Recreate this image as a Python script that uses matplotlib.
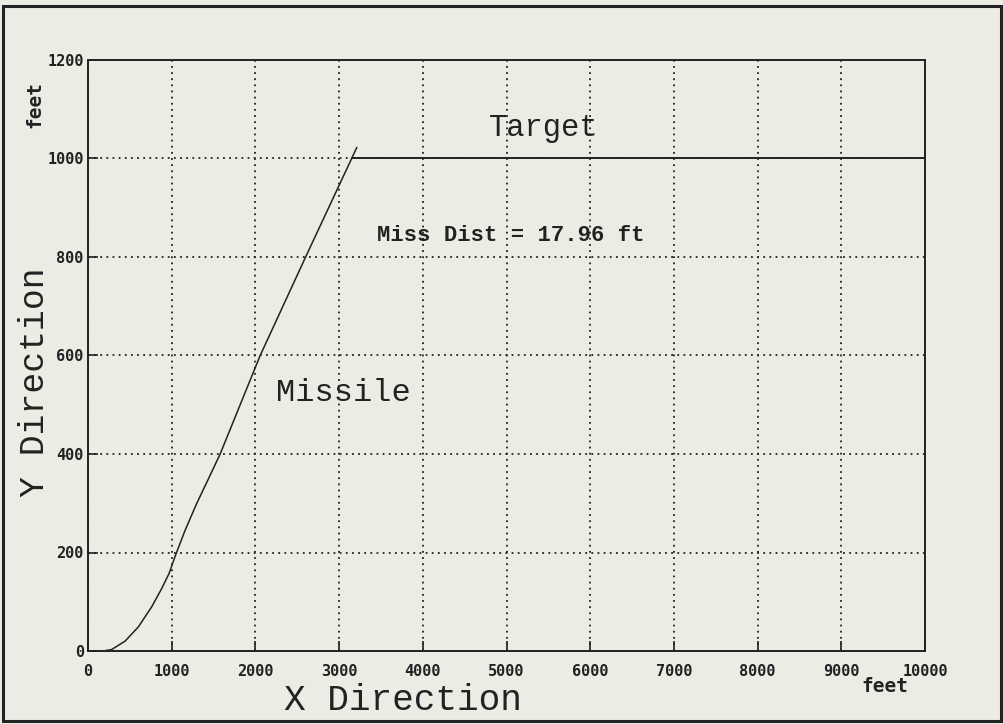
import numpy as np
import matplotlib.pyplot as plt
from matplotlib.patches import Rectangle

# missile trajectory (feet)
missile_x = [183, 283, 443, 602, 762, 881, 970, 1040, 1160, 1300, 1440, 1579,
             2057, 2600, 3150, 3210]
missile_y = [0, 3, 20, 49, 90, 127, 158, 192, 245, 300, 350, 400,
             600, 800, 1000, 1022]

# target path (feet)
target_x = [3160, 10000]
target_y = [1000, 1000]

miss_dist = 17.96

x_ticks = [0, 1000, 2000, 3000, 4000, 5000, 6000, 7000, 8000, 9000, 10000]
y_ticks = [0, 200, 400, 600, 800, 1000, 1200]

paper = '#ecebe4'
ink = '#222222'
mono = 'Liberation Mono'

fig = plt.figure(figsize=(10.04, 7.24), dpi=100, facecolor=paper)
ax = fig.add_axes([88 / 1004, 1 - 651 / 724, (925 - 88) / 1004, (651 - 60) / 724])
ax.set_facecolor(paper)

ax.plot(missile_x, missile_y, color=ink, lw=1.1)
ax.plot(target_x, target_y, color=ink, lw=1.4)

ax.set_xlim(0, 10000)
ax.set_ylim(0, 1200)
ax.set_xticks(x_ticks)
ax.set_yticks(y_ticks)
ax.grid(True, color=ink, linestyle=(0, (1, 2.4)), lw=1.3)
ax.tick_params(direction='in', length=7, width=1.2, color=ink,
               labelsize=11, labelcolor=ink)
ax.tick_params(axis='x', pad=9)
ax.tick_params(axis='y', pad=3)
for lab in ax.get_xticklabels() + ax.get_yticklabels():
    lab.set_fontfamily('DejaVu Sans Mono')
    lab.set_fontweight('bold')
for s in ax.spines.values():
    s.set_color(ink)
    s.set_linewidth(1.4)

ax.text(5443, 1062, 'Target', family=mono, fontsize=22, color=ink,
        ha='center', va='center')
ax.text(5048, 843, f'Miss Dist = {miss_dist:.2f} ft', family=mono,
        fontsize=16, fontweight='bold', color=ink, ha='center', va='center')
ax.text(3050, 524, 'Missile', family=mono, fontsize=23, color=ink,
        ha='center', va='center')

fig.text(403 / 1004, 1 - 700 / 724, 'X Direction', family=mono, fontsize=26,
         color=ink, ha='center', va='center')
fig.text(35 / 1004, 1 - 382 / 724, 'Y Direction', family=mono, fontsize=25,
         color=ink, ha='center', va='center', rotation=90)
fig.text(885 / 1004, 1 - 687 / 724, 'feet', family='DejaVu Sans Mono',
         fontsize=14, fontweight='bold', color=ink, ha='center', va='center')
fig.text(35 / 1004, 1 - 105 / 724, 'feet', family='DejaVu Sans Mono',
         fontsize=14, fontweight='bold', color=ink, ha='center', va='center',
         rotation=90)

# outer frame
fig.patches.append(Rectangle((3 / 1004, 1 - 721 / 724), 998 / 1004, 715 / 724,
                             transform=fig.transFigure, fill=False,
                             edgecolor=ink, lw=2.2))

fig.savefig('out.png', dpi=100, facecolor=paper)
